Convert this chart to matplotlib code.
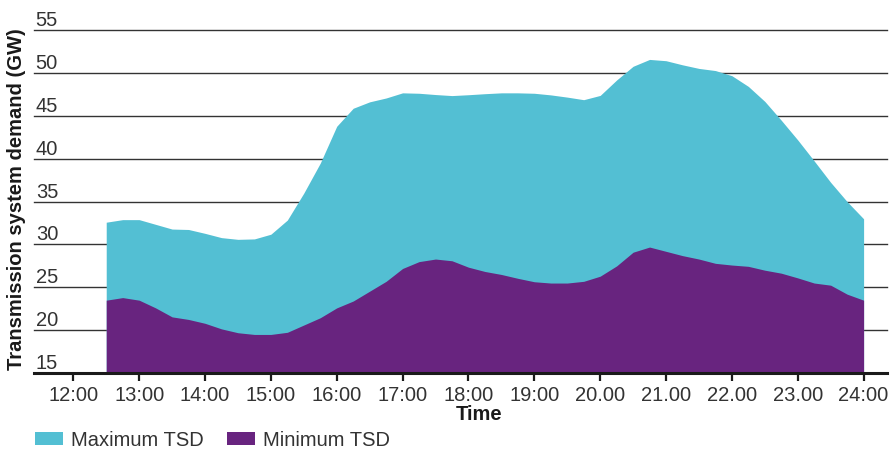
import matplotlib
matplotlib.use("Agg")
import matplotlib.pyplot as plt
from matplotlib.patches import Patch
import numpy as np

# ---- data -------------------------------------------------------------
times = [12.5 + 0.25 * i for i in range(47)]  # quarter-hours 12:30 .. 24:00

max_tsd = [32.6, 32.9, 32.9, 32.35, 31.8, 31.75, 31.3, 30.8, 30.6, 30.65,
           31.2, 32.85, 36.0, 39.5, 43.8, 45.9, 46.65, 47.1, 47.7, 47.65,
           47.5, 47.38, 47.48, 47.6, 47.7, 47.7, 47.65, 47.46, 47.2, 46.9,
           47.4, 49.2, 50.8, 51.6, 51.45, 50.97, 50.55, 50.3, 49.7, 48.45,
           46.7, 44.5, 42.2, 39.75, 37.25, 35.0, 33.0]

min_tsd = [23.5, 23.8, 23.5, 22.6, 21.55, 21.25, 20.8, 20.15, 19.7, 19.5,
           19.5, 19.75, 20.6, 21.45, 22.6, 23.4, 24.55, 25.7, 27.2, 28.0,
           28.3, 28.1, 27.35, 26.85, 26.5, 26.05, 25.65, 25.5, 25.5, 25.7,
           26.3, 27.5, 29.1, 29.7, 29.2, 28.7, 28.3, 27.8, 27.6, 27.45,
           27.0, 26.65, 26.1, 25.5, 25.25, 24.2, 23.5]

xtick_pos = list(range(12, 25))
xtick_labels = ["12:00", "13:00", "14:00", "15:00", "16:00", "17:00", "18:00",
                "19:00", "20.00", "21.00", "22.00", "23.00", "24:00"]
ytick_pos = [15, 20, 25, 30, 35, 40, 45, 50, 55]

series_names = ["Maximum TSD", "Minimum TSD"]
colors = ["#53bfd3", "#68247f"]

# ---- figure -----------------------------------------------------------
plt.rcParams['font.family'] = ['Liberation Sans', 'DejaVu Sans']
text_col = "#333333"

W, H = 890, 449
fig = plt.figure(figsize=(W / 100, H / 100), dpi=100)
ax = fig.add_axes([34 / W, 1 - 373 / H, (887 - 34) / W, (373 - 30.3) / H])

ax.fill_between(times, 15, max_tsd, color=colors[0], linewidth=0, zorder=2)
ax.fill_between(times, 15, min_tsd, color=colors[1], linewidth=0, zorder=3)

ax.set_xlim(12 - (73.3 - 34) / 65.86, 24 + (887 - 863.6) / 65.86)
ax.set_ylim(15, 55)

for s in ["top", "right", "left"]:
    ax.spines[s].set_visible(False)
ax.spines["bottom"].set_linewidth(2.2)
ax.spines["bottom"].set_color("#1a1a1a")
ax.spines["bottom"].set_zorder(5)

ax.set_xticks(xtick_pos)
ax.set_xticklabels(xtick_labels)
ax.tick_params(axis="x", direction="out", length=5.5, width=1.6, color="#1a1a1a",
               labelsize=14.5, labelcolor=text_col, pad=4)

ax.set_yticks(ytick_pos)
ax.set_yticklabels([])
ax.tick_params(axis="y", length=0)
ax.yaxis.grid(True, color="#333333", linewidth=1.0)
ax.set_axisbelow(True)
for gl in ax.get_ygridlines():
    gl.set_clip_on(False)
    gl.set_zorder(1)

tr = matplotlib.transforms.blended_transform_factory(ax.transAxes, ax.transData)
for v in ytick_pos:
    ax.text(0.002, v, str(v), transform=tr, ha="left", va="bottom",
            fontsize=14.5, color=text_col, zorder=6)

fig.text(17 / W, 1 - 199 / H, "Transmission system demand (GW)", rotation=90,
         ha="center", va="center", fontsize=14.5, fontweight="bold", color="#1a1a1a")
fig.text(479 / W, 1 - 415 / H, "Time", ha="center", va="center",
         fontsize=14.5, fontweight="bold", color="#1a1a1a")

handles = [Patch(facecolor=c, edgecolor="none") for c in colors]
fig.legend(handles, series_names, loc="center left",
           bbox_to_anchor=(35 / W, 1 - 440 / H), ncol=2, frameon=False,
           borderpad=0, borderaxespad=0, handlelength=1.4, handleheight=0.6,
           handletextpad=0.4, columnspacing=1.15, fontsize=14.5,
           labelcolor=text_col)

fig.savefig("out.png", dpi=100)
